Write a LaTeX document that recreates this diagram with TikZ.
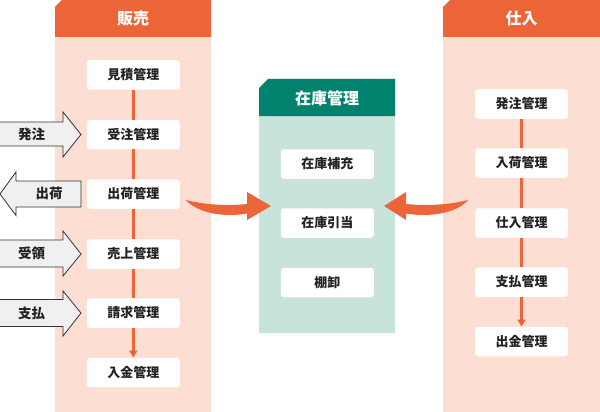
\documentclass[tikz,border=0pt]{standalone}
\usepackage{fontspec}
\setmainfont{Noto Sans CJK JP}
\usetikzlibrary{arrows.meta}
\definecolor{orgH}{HTML}{EB6538}
\definecolor{orgB}{HTML}{FCDED3}
\definecolor{tealH}{HTML}{00826F}
\definecolor{tealB}{HTML}{C8E2DC}
\definecolor{txt}{HTML}{222222}
\definecolor{arrG}{HTML}{F0F0F0}
\definecolor{arrS}{HTML}{333333}
\begin{document}
\begin{tikzpicture}[x=1pt,y=-1pt,
  itembox/.style={fill=white,rounded corners=3pt,minimum width=93pt,minimum height=29.5pt,inner sep=0pt,
    font=\fontsize{13pt}{15pt}\selectfont\bfseries,text=txt},
  headtext/.style={font=\fontsize{16pt}{18pt}\selectfont\bfseries,text=white,inner sep=0pt},
  flowline/.style={draw=orgH,line width=2.4pt},
  flowarrow/.style={flowline,-{Triangle[width=8pt,length=7pt]}},
  bigarrow/.style={fill=arrG,draw=arrS,line width=0.8pt,line join=miter},
  arrtext/.style={font=\fontsize{13.5pt}{15pt}\selectfont\bfseries,text=txt,inner sep=0pt}]
\useasboundingbox (0,0) rectangle (600,412);
% columns
\fill[orgB] (55,7) -- (62,0) -- (211,0) -- (211,412) -- (55,412) -- cycle;
\fill[orgH] (55,7) -- (62,0) -- (211,0) -- (211,37) -- (55,37) -- cycle;
\fill[orgB] (443,7) -- (450,0) -- (600,0) -- (600,412) -- (443,412) -- cycle;
\fill[orgH] (443,7) -- (450,0) -- (600,0) -- (600,37) -- (443,37) -- cycle;
\fill[tealB] (259,88) -- (268,79) -- (395,79) -- (395,333) -- (259,333) -- cycle;
\fill[tealH] (259,88) -- (268,79) -- (395,79) -- (395,116) -- (259,116) -- cycle;
\node[headtext] (hs) at (133,18.5) {販売};
\node[headtext] (hp) at (521.5,18.5) {仕入};
\node[headtext] (hz) at (327,98) {在庫管理};
% left column
\node[itembox] (s1) at (133.3,75) {見積管理};
\node[itembox] (s2) at (133.3,134.5) {受注管理};
\node[itembox] (s3) at (133.3,194) {出荷管理};
\node[itembox] (s4) at (133.3,254) {売上管理};
\node[itembox] (s5) at (133.3,313) {請求管理};
\node[itembox] (s6) at (133.3,372.5) {入金管理};
\draw[flowline] (s1.south) -- (s2.north);
\draw[flowline] (s2.south) -- (s3.north);
\draw[flowline] (s3.south) -- (s4.north);
\draw[flowline] (s4.south) -- (s5.north);
\draw[flowarrow] (s5.south) -- (s6.north);
% right column
\node[itembox] (p1) at (521.5,104) {発注管理};
\node[itembox] (p2) at (521.5,163) {入荷管理};
\node[itembox] (p3) at (521.5,223) {仕入管理};
\node[itembox] (p4) at (521.5,282) {支払管理};
\node[itembox] (p5) at (521.5,341.5) {出金管理};
\draw[flowline] (p1.south) -- (p2.north);
\draw[flowline] (p2.south) -- (p3.north);
\draw[flowline] (p3.south) -- (p4.north);
\draw[flowarrow] (p4.south) -- (p5.north);
% middle column
\node[itembox] (z1) at (327.3,164) {在庫補充};
\node[itembox] (z2) at (327.3,223) {在庫引当};
\node[itembox] (z3) at (327.3,282.5) {棚卸};
% swooshes
\fill[orgH] (186,200) .. controls (205,205) and (228,206) .. (247,204) -- (247,192) -- (271,206) -- (247,220) -- (247,213.5)
  .. controls (222,218) and (196,212) .. (186,200) -- cycle;
\fill[orgH] (468,200) .. controls (449,205) and (426,206) .. (406,204) -- (406,192) -- (384,206) -- (406,220) -- (406,213.5)
  .. controls (432,218) and (458,212) .. (468,200) -- cycle;
% side arrows
\draw[bigarrow] (-2,122) -- (63,122) -- (63,112) -- (81,134.5) -- (63,157) -- (63,146) -- (-2,146) -- cycle;
\node[arrtext] (a1) at (31.5,134) {発注};
\draw[bigarrow] (81,181) -- (16,181) -- (16,172) -- (0,194) -- (16,215.5) -- (16,207) -- (81,207) -- cycle;
\node[arrtext] (a2) at (49,193.5) {出荷};
\draw[bigarrow] (-2,240) -- (63,240) -- (63,231) -- (81,254) -- (63,276) -- (63,267) -- (-2,267) -- cycle;
\node[arrtext] (a3) at (31.5,253.5) {受領};
\draw[bigarrow] (-2,299.5) -- (63,299.5) -- (63,291) -- (81,313) -- (63,336) -- (63,326.5) -- (-2,326.5) -- cycle;
\node[arrtext] (a4) at (31.5,313) {支払};
\end{tikzpicture}
\end{document}
